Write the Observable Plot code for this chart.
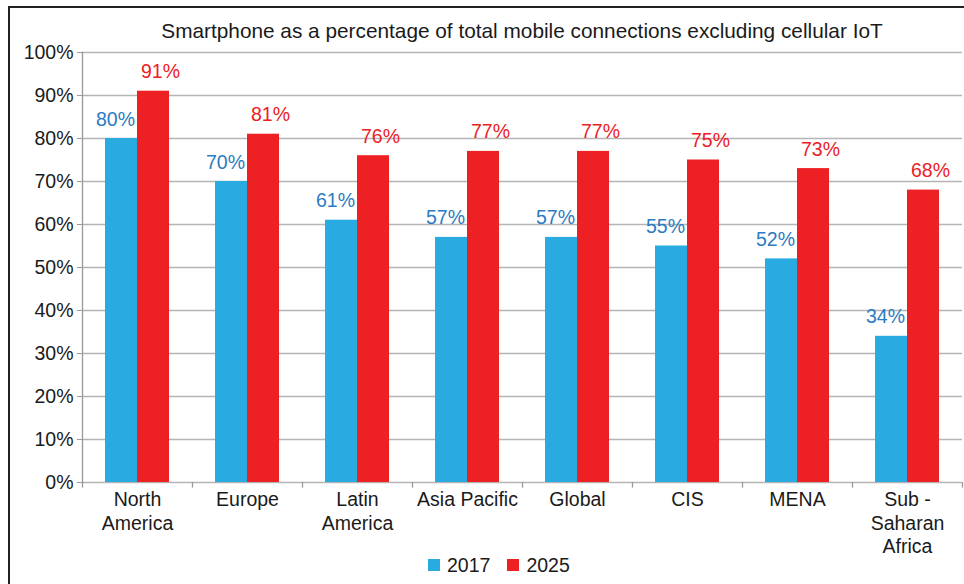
<!DOCTYPE html>
<html>
<head>
<meta charset="utf-8">
<script src="https://cdn.jsdelivr.net/npm/d3@7"></script>
<script src="https://cdn.jsdelivr.net/npm/@observablehq/plot@0.6"></script>
<style>
  html, body { margin: 0; padding: 0; background: #fff; }
  body { width: 964px; height: 584px; position: relative; overflow: hidden;
         font-family: "Liberation Sans", Arial, sans-serif; color: #1a1a1a; }
  #frame { position: absolute; left: 8px; top: 6px; width: 1000px; height: 700px;
           border-left: 2px solid #222; border-top: 2px solid #222; }
  #title { position: absolute; left: 82px; width: 880px; top: 19px; text-align: center;
           font-size: 20.8px; line-height: 24px; }
  #chart { position: absolute; left: 0; top: 40px; }
  #legend { position: absolute; top: 553px; left: 428px; display: flex; align-items: center;
            font-size: 19.5px; line-height: 24px; }
  .sw { width: 12px; height: 12px; display: inline-block; margin-right: 7px; }
  .item { display: flex; align-items: center; margin-right: 17px; }
</style>
</head>
<body>
<div id="frame"></div>
<div id="title">Smartphone as a percentage of total mobile connections excluding cellular IoT</div>
<div id="chart"></div>
<div id="legend"></div>
<script>
const categories = ["North\nAmerica", "Europe", "Latin\nAmerica", "Asia Pacific", "Global", "CIS", "MENA", "Sub -\nSaharan\nAfrica"];
const years = ["2017", "2025"];
const values2017 = [80, 70, 61, 57, 57, 55, 52, 34];
const values2025 = [91, 81, 76, 77, 77, 75, 73, 68];
const yTicks = [0, 10, 20, 30, 40, 50, 60, 70, 80, 90, 100];

const barColors = {"2017": "#29ABE2", "2025": "#ED2024"};
const textColors = {"2017": "#2B7BC1", "2025": "#ED2024"};

const rows2017 = categories.map((c, i) => ({cat: c, year: "2017", v: values2017[i]}));
const rows2025 = categories.map((c, i) => ({cat: c, year: "2025", v: values2025[i]}));

const chart = Plot.plot({
  width: 964,
  height: 504,
  marginLeft: 82,
  marginRight: 2,
  marginTop: 12,
  marginBottom: 62,
  style: {fontFamily: "'Liberation Sans', Arial, sans-serif", fontSize: "19.5px", color: "#1a1a1a", background: "transparent", overflow: "visible"},
  x: {domain: categories, padding: 0, axis: null, label: null},
  y: {domain: [0, 100], axis: null, label: null},
  marks: [
    Plot.gridY(yTicks, {stroke: "#b5b5b5", strokeOpacity: 1, strokeWidth: 1.3}),
    Plot.barY(rows2017, {x: "cat", y: "v", fill: barColors["2017"], insetLeft: 23, insetRight: 55}),
    Plot.barY(rows2025, {x: "cat", y: "v", fill: barColors["2025"], insetLeft: 55, insetRight: 23}),
    Plot.text(rows2017, {x: "cat", y: "v", text: d => d.v + "%", fill: textColors["2017"], dx: -22, dy: -13, lineAnchor: "bottom", fontSize: 19.5}),
    Plot.text(rows2025, {x: "cat", y: "v", text: d => d.v + "%", fill: textColors["2025"], dx: 23, dy: -13, lineAnchor: "bottom", fontSize: 19.5}),
    Plot.axisY(yTicks, {label: null, tickSize: 5, tickPadding: 4, tickFormat: d => d + "%", stroke: "#999", fill: "#1a1a1a", fontSize: 19.5}),
    Plot.frame({anchor: "left", stroke: "#999", strokeWidth: 1.3}),
    Plot.axisX(categories, {label: null, tickSize: 0, tickPadding: 6, lineHeight: 1.23, fill: "#1a1a1a", fontSize: 19.5}),
    Plot.ruleX(categories, {x: d => d, dx: -55, y1: 0, y2: -1.3, stroke: "#999", strokeWidth: 1.3}),
    Plot.ruleX(categories.slice(-1), {x: d => d, dx: 55, y1: 0, y2: -1.3, stroke: "#999", strokeWidth: 1.3})
  ]
});
document.getElementById("chart").appendChild(chart);

const legend = document.getElementById("legend");
years.forEach(y => {
  const item = document.createElement("div");
  item.className = "item";
  const sw = document.createElement("span");
  sw.className = "sw";
  sw.style.background = barColors[y];
  const t = document.createElement("span");
  t.textContent = y;
  item.appendChild(sw);
  item.appendChild(t);
  legend.appendChild(item);
});
</script>
</body>
</html>
